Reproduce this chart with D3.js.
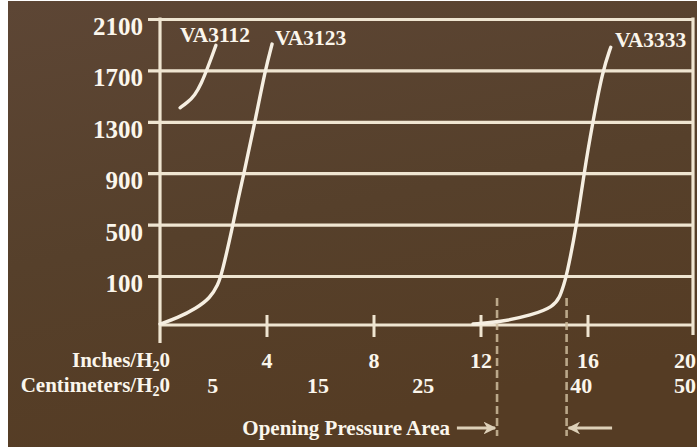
<!DOCTYPE html>
<html>
<head>
<meta charset="utf-8">
<script src="https://cdn.jsdelivr.net/npm/d3@7"></script>
<style>
  html, body { margin: 0; padding: 0; background: #ffffff; }
  svg { display: block; }
  text { font-family: "Liberation Serif", "Times New Roman", serif; font-weight: bold; fill: #fbf6ec; }
</style>
</head>
<body>
<svg id="chart" width="697" height="448"></svg>
<script>
// Opening-pressure curves, flow vs. pressure (inches of water)
const flowTicks = [100, 500, 900, 1300, 1700, 2100];
const inchTicks = [4, 8, 12, 16, 20];
const cmTicks = [5, 15, 25, 40, 50];
const valveNames = ["VA3112", "VA3123", "VA3333"];

// [inches H2O, flow]
const va3112 = [[0.75, 1409], [1.01, 1448], [1.30, 1505], [1.55, 1600], [1.78, 1720], [1.98, 1832], [2.09, 1895]];
const va3123 = [[0, 2], [0.64, 14], [1.38, 35], [1.87, 55], [2.17, 82], [2.32, 123], [2.73, 500],
                [2.91, 691], [3.14, 900], [3.55, 1300], [3.93, 1700], [4.19, 1905]];
const va3333 = [[11.7, 2], [12.7, 6], [13.9, 20], [14.7, 37], [14.95, 57], [15.08, 80], [15.2, 100],
                [15.58, 500], [15.85, 900], [16.18, 1300], [16.55, 1700], [16.85, 1880]];
const series = [va3112, va3123, va3333];

// opening pressure window (inches H2O) and arrow tails
const openingArea = [12.6, 15.2];
const arrowTails = [11.1, 16.9];

const svg = d3.select("#chart");
const W = 697, H = 448;

const defs = svg.append("defs");
const bg = defs.append("linearGradient").attr("id", "bg").attr("x1", 0).attr("y1", 0).attr("x2", 0.3).attr("y2", 1);
bg.append("stop").attr("offset", "0%").attr("stop-color", "#5d4635");
bg.append("stop").attr("offset", "55%").attr("stop-color", "#56402b");
bg.append("stop").attr("offset", "100%").attr("stop-color", "#553c24");
defs.append("marker").attr("id", "head").attr("viewBox", "0 0 10 10")
  .attr("refX", 9).attr("refY", 5).attr("markerWidth", 4).attr("markerHeight", 4)
  .attr("orient", "auto-start-reverse").attr("markerUnits", "strokeWidth")
  .append("path").attr("d", "M0,0 L10,5 L0,10 L3,5 Z").attr("fill", "#ddd0b8");

svg.append("rect").attr("x", 8).attr("y", 1).attr("width", W - 8).attr("height", H - 2).attr("fill", "url(#bg)");

const x = d3.scaleLinear().domain([0, 20]).range([160, 695]);
// baseline (0) sits one low step below the 100 line
const y = d3.scaleLinear().domain([0, 100, 2100]).range([325, 276, 19]);

const lineCol = "#efe5d1";
const xRight = 693;

// horizontal grid with left tick stubs and labels
const yAxis = d3.axisLeft(y).tickValues(flowTicks).tickSize(-(xRight - 148)).tickPadding(5).tickFormat(d3.format("d"));
const gy = svg.append("g").attr("transform", "translate(148,0)").call(yAxis);
gy.select(".domain").remove();
gy.selectAll(".tick line").attr("stroke", lineCol).attr("stroke-width", 3.2);
gy.selectAll(".tick text").attr("fill", "#fbf6ec").attr("font-size", 25)
  .attr("font-family", "Liberation Serif, serif").attr("font-weight", "bold").attr("dy", "0.62em");

// baseline, left axis and right border
svg.append("line").attr("x1", x(0)).attr("x2", xRight).attr("y1", y(0)).attr("y2", y(0))
  .attr("stroke", lineCol).attr("stroke-width", 3.2);
svg.append("line").attr("x1", x(0)).attr("x2", x(0)).attr("y1", y(2100) - 1.5).attr("y2", y(0) + 18)
  .attr("stroke", lineCol).attr("stroke-width", 3.2);
svg.append("line").attr("x1", xRight).attr("x2", xRight).attr("y1", y(2100) - 1.5).attr("y2", y(0) + 10)
  .attr("stroke", lineCol).attr("stroke-width", 3.2);

// x ticks crossing the baseline
svg.append("g").selectAll("line").data(inchTicks.filter(d => d < 20)).join("line")
  .attr("x1", d => x(d)).attr("x2", d => x(d)).attr("y1", y(0) - 10).attr("y2", y(0) + 12)
  .attr("stroke", lineCol).attr("stroke-width", 3);

// keep a centred label inside the right edge
function clampRight(sel) {
  sel.each(function () {
    const w = this.getComputedTextLength();
    const cx = +this.getAttribute("x");
    if (cx + w / 2 > W - 1) this.setAttribute("x", W - 1 - w / 2);
  });
}

// inch labels
svg.append("g").selectAll("text").data(inchTicks).join("text")
  .attr("x", d => x(d)).attr("y", y(0) + 43).attr("text-anchor", "middle").attr("font-size", 22).text(d => d)
  .call(clampRight);
// centimetre labels
svg.append("g").selectAll("text").data(cmTicks).join("text")
  .attr("x", d => x(d / 2.54)).attr("y", y(0) + 68).attr("text-anchor", "middle").attr("font-size", 22).text(d => d)
  .call(clampRight);

function unitLabel(name, yy) {
  const t = svg.append("text").attr("x", 170).attr("y", yy).attr("text-anchor", "end").attr("font-size", 21);
  t.append("tspan").text(name + "/H");
  t.append("tspan").attr("font-size", 14).attr("dy", 4).text("2");
  t.append("tspan").attr("dy", -4).text("0");
}
unitLabel("Inches", y(0) + 42);
unitLabel("Centimeters", y(0) + 67);

// opening pressure window
svg.append("g").selectAll("line").data(openingArea).join("line")
  .attr("x1", d => x(d)).attr("x2", d => x(d)).attr("y1", 298).attr("y2", 436)
  .attr("stroke", "#cdbb9c").attr("stroke-width", 2.6).attr("stroke-dasharray", "8,4").attr("opacity", 0.85);

const arrowY = 428;
svg.append("g").selectAll("line").data(arrowTails).join("line")
  .attr("x1", d => x(d)).attr("x2", (d, i) => x(openingArea[i]) + (i === 0 ? -2 : 2))
  .attr("y1", arrowY).attr("y2", arrowY)
  .attr("stroke", "#ddd0b8").attr("stroke-width", 3.2).attr("marker-end", "url(#head)");

svg.append("text").attr("x", 450).attr("y", 435).attr("text-anchor", "end").attr("font-size", 21)
  .text("Opening Pressure Area");

// flow curves
const line = d3.line().x(d => x(d[0])).y(d => y(d[1])).curve(d3.curveBasis);
svg.append("g").selectAll("path").data(series).join("path")
  .attr("d", line).attr("fill", "none").attr("stroke", "#f6efe2")
  .attr("stroke-width", 3.4).attr("stroke-linecap", "round");

// valve labels
const labelPos = [[180, 42], [275, 45], [615, 47]];
svg.append("g").selectAll("text").data(valveNames).join("text")
  .attr("x", (d, i) => labelPos[i][0]).attr("y", (d, i) => labelPos[i][1])
  .attr("font-size", 21.5).text(d => d);
</script>
</body>
</html>
